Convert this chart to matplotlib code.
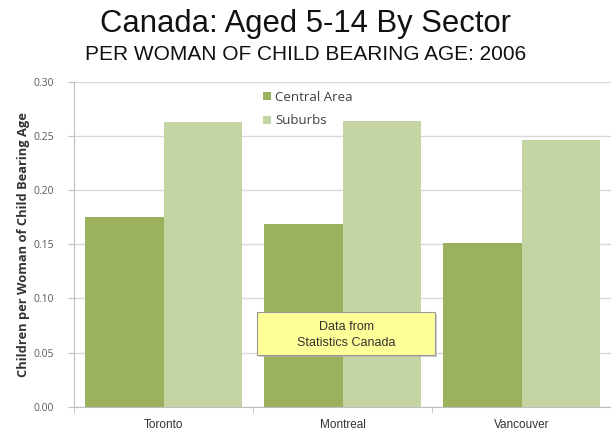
import numpy as np
import matplotlib
matplotlib.use("Agg")
import matplotlib.pyplot as plt
from matplotlib.patches import FancyBboxPatch

# data
cities = ["Toronto", "Montreal", "Vancouver"]
central = [0.175, 0.169, 0.151]
suburbs = [0.2625, 0.2635, 0.246]
yticks = [0.00, 0.05, 0.10, 0.15, 0.20, 0.25, 0.30]

plt.rcParams['font.family'] = ['Liberation Sans', 'DejaVu Sans']
calib = ["Open Sans", "DejaVu Sans"]

fig = plt.figure(figsize=(6.11, 4.34), dpi=100)
ax = fig.add_axes([74/611, 1-406.7/434, 1-74/611, (406.7-81.7)/434])

x = np.arange(len(cities))
w = 0.44
ax.bar(x - w/2, central, w, color="#9bb15e", label="Central Area", zorder=2)
ax.bar(x + w/2, suburbs, w, color="#c4d5a3", label="Suburbs", zorder=2)

ax.set_xlim(-0.5, 2.5)
ax.set_ylim(0, 0.30)
ax.set_yticks(yticks)
ax.set_yticklabels(["%.2f" % v for v in yticks], fontsize=7.5, color="#595959",
                   family=calib)
ax.yaxis.grid(True, color="#d9d9d9", lw=1, zorder=0)

ax.set_xticks(x)
ax.set_xticklabels(cities, fontsize=8.5, color="#333333")
ax.tick_params(axis="x", length=0, pad=9)
# tick marks between categories
ax.set_xticks([-0.5, 0.5, 1.5, 2.5], minor=True)
ax.tick_params(axis="x", which="minor", length=4, color="#bfbfbf")
ax.tick_params(axis="y", length=4.5, color="#bfbfbf", pad=10)

for s in ["top", "right"]:
    ax.spines[s].set_visible(False)
ax.spines["left"].set_color("#bfbfbf")
ax.spines["bottom"].set_color("#bfbfbf")

ax.set_ylabel("Children per Woman of Child Bearing Age", fontsize=9.3, fontweight="bold",
              color="#333333", family=calib, labelpad=2)

leg = ax.legend(loc="upper left", bbox_to_anchor=(0.335, 1.0), frameon=False,
                handlelength=0.6, handleheight=0.6, handletextpad=0.3,
                labelspacing=0.8, borderaxespad=0.3,
                prop={"family": calib, "size": 9.5})
for t in leg.get_texts():
    t.set_color("#404040")

# note box
box = FancyBboxPatch((257/611, 1-355/434), (435-257)/611, (355-312)/434,
                     boxstyle="square,pad=0", transform=fig.transFigure,
                     facecolor="#ffff99", edgecolor="#999999", lw=0.8, zorder=5)
shadow = FancyBboxPatch((259/611, 1-357/434), (435-257)/611, (355-312)/434,
                        boxstyle="square,pad=0", transform=fig.transFigure,
                        facecolor="#b0b0b0", edgecolor="none", alpha=0.6, zorder=4)
fig.patches.extend([shadow, box])
fig.text(346.5/611, 1-335/434, "Data from\nStatistics Canada", ha="center", va="center",
         fontsize=9, color="#333333", linespacing=1.35, zorder=6)

fig.text(0.5, 1-24/434, "Canada: Aged 5-14 By Sector", ha="center", va="center",
         fontsize=22.3, color="#111111")
fig.text(0.5, 1-55/434, "PER WOMAN OF CHILD BEARING AGE: 2006", ha="center", va="center",
         fontsize=15, color="#111111")

fig.savefig("out.png", dpi=100)
